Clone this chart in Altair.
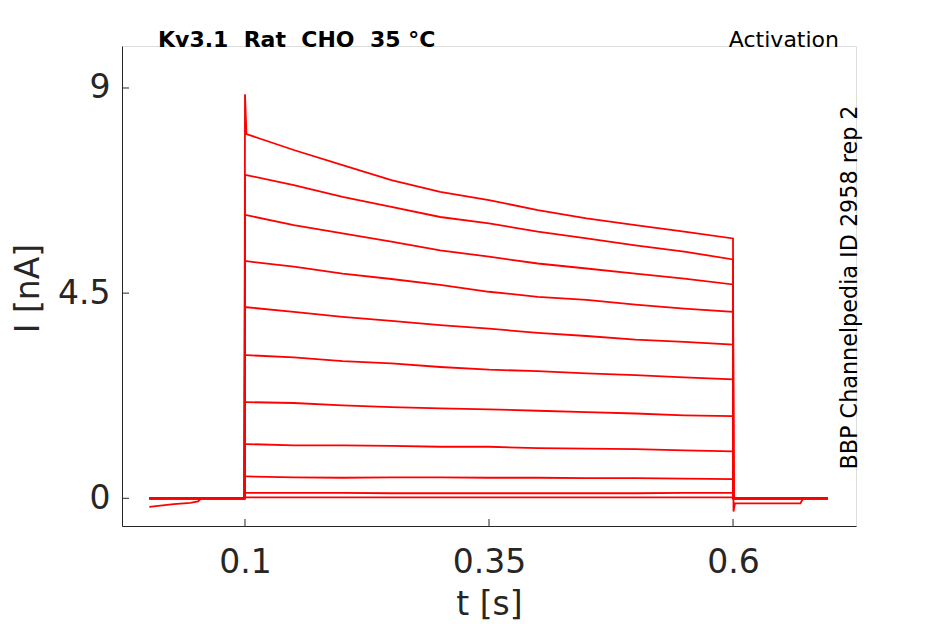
import altair as alt
import pandas as pd

# ---- data ----
trace_ids = ["T1", "T2", "T3", "T4", "T5", "T6", "T7", "T8", "T9", "T10", "T11"]

# holding period before the step (s)
t_pre = [0.002, 0.027, 0.044, 0.052, 0.055, 0.0995]
pre_drift = [-0.19, -0.13, -0.10, -0.07, 0.0, 0.0]   # one trace starts slightly negative
pre_flat = [0.0, 0.0, 0.0, 0.0, 0.0, 0.0]

# onset value at t = 0.1 s (capacitive spike on the largest trace)
t_onset = 0.1
onset = [8.86, 7.09, 6.21, 5.20, 4.19, 3.14, 2.11, 1.19, 0.48, 0.12, 0.02]

# step period (s)
t_step = [0.1015, 0.15, 0.2, 0.25, 0.3, 0.35, 0.4, 0.45, 0.5, 0.55, 0.6]
step_T1 = [7.99, 7.64, 7.31, 6.98, 6.72, 6.54, 6.32, 6.14, 5.99, 5.85, 5.70]
step_T2 = [7.09, 6.87, 6.61, 6.39, 6.17, 6.03, 5.85, 5.70, 5.55, 5.41, 5.24]
step_T3 = [6.21, 5.99, 5.81, 5.63, 5.44, 5.30, 5.15, 5.04, 4.93, 4.82, 4.69]
step_T4 = [5.20, 5.08, 4.93, 4.81, 4.68, 4.53, 4.42, 4.35, 4.25, 4.16, 4.09]
step_T5 = [4.19, 4.09, 3.98, 3.89, 3.80, 3.72, 3.63, 3.56, 3.48, 3.43, 3.37]
step_T6 = [3.14, 3.09, 3.01, 2.96, 2.88, 2.82, 2.79, 2.74, 2.70, 2.65, 2.61]
step_T7 = [2.11, 2.09, 2.04, 2.00, 1.97, 1.95, 1.92, 1.89, 1.86, 1.82, 1.80]
step_T8 = [1.19, 1.16, 1.16, 1.15, 1.13, 1.13, 1.10, 1.09, 1.08, 1.05, 1.03]
step_T9 = [0.48, 0.46, 0.45, 0.46, 0.46, 0.45, 0.45, 0.44, 0.44, 0.43, 0.42]
step_T10 = [0.12, 0.12, 0.12, 0.11, 0.11, 0.11, 0.11, 0.11, 0.11, 0.12, 0.12]
step_T11 = [0.02, 0.02, 0.02, 0.02, 0.02, 0.02, 0.02, 0.02, 0.02, 0.02, 0.02]

# after the step (s)
t_post = [0.6005, 0.602, 0.669, 0.672, 0.697]
post_tail = [-0.29, -0.11, -0.11, 0.0, 0.0]
post_flat = [0.0, 0.0, 0.0, 0.0, 0.0]

x_ticks = [0.1, 0.35, 0.6]
y_ticks = [0, 4.5, 9]

title_text = "Kv3.1\u00a0\u00a0Rat\u00a0\u00a0CHO\u00a0\u00a035 °C"
protocol_text = "Activation"
source_text = "BBP Channelpedia ID 2958 rep 2"

# ---- build table ----
steps = [step_T1, step_T2, step_T3, step_T4, step_T5, step_T6,
         step_T7, step_T8, step_T9, step_T10, step_T11]
rows = []
for k, tid in enumerate(trace_ids):
    pre = pre_drift if tid == "T11" else pre_flat
    post = post_tail if tid == "T1" else post_flat
    for t, v in zip(t_pre, pre):
        rows.append({"trace": tid, "t": t, "I": v})
    rows.append({"trace": tid, "t": t_onset, "I": onset[k]})
    for t, v in zip(t_step, steps[k]):
        rows.append({"trace": tid, "t": t, "I": v})
    for t, v in zip(t_post, post):
        rows.append({"trace": tid, "t": t, "I": v})
df = pd.DataFrame(rows)

W, H = 734, 480
AX = "#262626"
FONT = "DejaVu Sans"

xscale = alt.Scale(domain=[-0.026, 0.726], nice=False, zero=False)
yscale = alt.Scale(domain=[-0.608, 9.921], nice=False, zero=False)

lines = alt.Chart(df).mark_line(color="#ff0000", strokeWidth=1.8).encode(
    x=alt.X("t:Q", scale=xscale,
            axis=alt.Axis(values=x_ticks, format=".3~g", title="t [s]",
                          grid=False, ticks=False, tickSize=0,
                          domainColor=AX, domainWidth=1,
                          labelColor=AX, labelFontSize=33, labelFont=FONT,
                          labelBaseline="alphabetic", labelPadding=46,
                          labelFlush=False,
                          titleColor=AX, titleFontSize=33, titleFont=FONT,
                          titleFontWeight="normal", titleBaseline="alphabetic",
                          titleX=367, titleY=88, titleAlign="center")),
    y=alt.Y("I:Q", scale=yscale,
            axis=alt.Axis(values=y_ticks, format=".3~g", title="I [nA]",
                          grid=False, ticks=False, tickSize=0,
                          domainColor=AX, domainWidth=1,
                          labelColor=AX, labelFontSize=33, labelFont=FONT,
                          labelAlign="right", labelBaseline="middle",
                          labelPadding=12, labelFlush=False,
                          titleColor=AX, titleFontSize=33, titleFont=FONT,
                          titleFontWeight="normal", titleAngle=270,
                          titleBaseline="alphabetic", titleAlign="center",
                          titleX=-84, titleY=242)),
    detail="trace:N",
)

xt = alt.Chart(pd.DataFrame({"v": x_ticks})).mark_rule(color=AX, strokeWidth=1).encode(
    x=alt.X("v:Q", scale=xscale), y=alt.value(H), y2=alt.value(H - 7))
yt = alt.Chart(pd.DataFrame({"v": y_ticks})).mark_rule(color=AX, strokeWidth=1).encode(
    y=alt.Y("v:Q", scale=yscale), x=alt.value(0), x2=alt.value(7))

title_mark = alt.Chart(pd.DataFrame({"a": [0]})).mark_text(
    text=title_text, font=FONT, fontSize=22, fontWeight="bold", color="#000000",
    align="left", baseline="alphabetic").encode(x=alt.value(36), y=alt.value(0.5))
prot_mark = alt.Chart(pd.DataFrame({"a": [0]})).mark_text(
    text=protocol_text, font=FONT, fontSize=22, color="#000000",
    align="right", baseline="alphabetic").encode(x=alt.value(717), y=alt.value(0.5))
src_mark = alt.Chart(pd.DataFrame({"a": [0]})).mark_text(
    text=source_text, font=FONT, fontSize=22.3, color="#000000", angle=270,
    align="center", baseline="alphabetic").encode(x=alt.value(735), y=alt.value(241.5))

chart = alt.layer(lines, xt, yt, title_mark, prot_mark, src_mark).properties(
    width=W, height=H,
    autosize=alt.AutoSizeParams(type="none"),
    padding={"left": 114, "top": 38, "right": 81, "bottom": 98},
).configure_view(stroke=None).configure(background="white")

chart.save("out.html", embed_options={"renderer": "svg", "actions": False})
